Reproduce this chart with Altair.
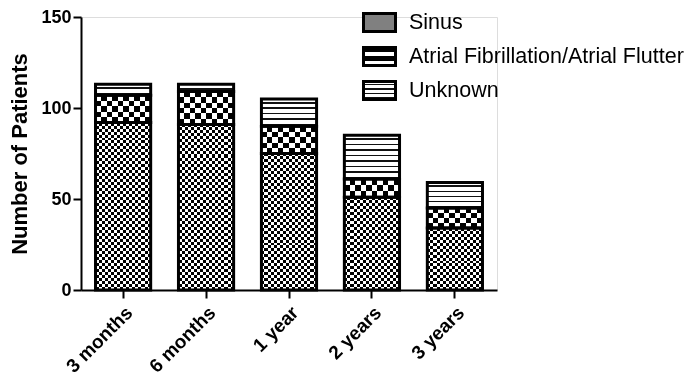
import altair as alt
import pandas as pd

periods = ["3 months", "6 months", "1 year", "2 years", "3 years"]
series = ["Sinus", "Atrial Fibrillation/Atrial Flutter", "Unknown"]
sinus = [92, 91, 75, 51, 34]
af = [15, 18, 15, 10, 11]
unknown = [6, 4, 15, 24, 14]

rows = []
for i, p in enumerate(periods):
    base = 0
    for s, vals in zip(series, [sinus, af, unknown]):
        v = vals[i]
        rows.append({"period": p, "series": s, "value": v, "y0": base, "y1": base + v})
        base += v
df = pd.DataFrame(rows)

PLOT_H = 273
PX_PER_UNIT = PLOT_H / 150


def stripes(n, first="black"):
    other = "white" if first == "black" else "black"
    out = []
    for i in range(n):
        c = first if i % 2 == 0 else other
        out += [(i / n, c), ((i + 1) / n, c)]
    return out


def lines(n):
    out = []
    for i in range(n):
        a, b, c = i / n, (i + 0.55) / n, (i + 0.85) / n
        out += [(a, "white"), (b, "white"), (b, "#111111"), (c, "#111111"), (c, "white"), ((i + 1) / n, "white")]
    return out


def grad_expr(stops, vertical=True):
    s = ",".join("{offset:%.4f,color:'%s'}" % (o, c) for o, c in stops)
    x2, y2 = (0, 1) if vertical else (1, 0)
    return "{gradient:'linear',x1:0,y1:0,x2:%d,y2:%d,stops:[%s]}" % (x2, y2, s)


def by_value_expr(values, cell_px, maker):
    """Nested ternary choosing a gradient whose repeat count follows the segment height."""
    counts = {}
    for v in sorted(set(values)):
        counts[v] = max(1, round(v * PX_PER_UNIT / cell_px))
    vs = sorted(counts)
    expr = grad_expr(maker(counts[vs[-1]]))
    for v in reversed(vs[:-1]):
        expr = "datum.value <= %d ? %s : (%s)" % (v, grad_expr(maker(counts[v])), expr)
    return expr


def vgrad(n):
    return alt.LinearGradient(
        gradient="linear", x1=0, y1=0, x2=1, y2=0,
        stops=[alt.GradientStop(offset=o, color=c) for o, c in stripes(n, first="white")],
    )


x_enc = alt.X(
    "period:N", sort=periods, title=None,
    scale=alt.Scale(paddingInner=0.335, paddingOuter=0.175),
    axis=alt.Axis(labelAngle=-45, labelAlign="right", labelBaseline="top",
                  labelFontSize=19, labelFontWeight="bold", labelPadding=5,
                  tickSize=8, tickWidth=2, domainWidth=2, domainColor="black",
                  tickColor="black", labelColor="black", grid=False),
)
y_enc = alt.Y(
    "y0:Q", title="Number of Patients",
    scale=alt.Scale(domain=[0, 150], nice=False),
    axis=alt.Axis(values=[0, 50, 100, 150], labelFontSize=18, labelFontWeight="bold",
                  titleFontSize=22, titleFontWeight="bold", titlePadding=9,
                  tickSize=8, tickWidth=2, domainWidth=2, domainColor="black",
                  tickColor="black", labelColor="black", titleColor="black",
                  labelPadding=2, grid=False),
)
xs = alt.X("period:N", sort=periods)

base = alt.Chart(df)

fills = base.mark_bar(strokeWidth=0).encode(
    x=x_enc, y=y_enc, y2="y1:Q",
    color=alt.Color(
        "series:N",
        scale=alt.Scale(domain=series, range=["#808080",
                                              {"expr": grad_expr(stripes(4))},
                                              {"expr": grad_expr(lines(4))}]),
        legend=alt.Legend(
            title=None, orient="none", legendX=281, legendY=-12,
            symbolType="M-1,-0.5625H1V0.5625H-1Z", symbolSize=1024,
            symbolStrokeColor="black", symbolStrokeWidth=3, symbolOpacity=1,
            labelFontSize=21.5, labelFont="Liberation Sans", labelColor="black",
            labelOffset=12, rowPadding=1, padding=0, labelLimit=400,
        ),
    ),
)


def seg(name):
    return base.transform_filter(alt.datum.series == name)


sinus_rows = seg(series[0]).mark_bar(
    fill={"expr": by_value_expr(sinus, 3.0, lambda n: stripes(n))}, strokeWidth=0
).encode(x=xs, y="y0:Q", y2="y1:Q")
sinus_cols = seg(series[0]).mark_bar(
    fill=vgrad(18), blend="difference", strokeWidth=0
).encode(x=xs, y="y0:Q", y2="y1:Q")

af_rows = seg(series[1]).mark_bar(
    fill={"expr": by_value_expr(af, 5.5, lambda n: stripes(n))}, strokeWidth=0
).encode(x=xs, y="y0:Q", y2="y1:Q")
af_cols = seg(series[1]).mark_bar(
    fill=vgrad(10), blend="difference", strokeWidth=0
).encode(x=xs, y="y0:Q", y2="y1:Q")

unk_lines = seg(series[2]).mark_bar(
    fill={"expr": by_value_expr(unknown, 5.5, lines)}, strokeWidth=0
).encode(x=xs, y="y0:Q", y2="y1:Q")

outline = base.mark_bar(fill="transparent", stroke="black", strokeWidth=3).encode(
    x=xs, y="y0:Q", y2="y1:Q"
)

chart = alt.layer(fills, sinus_rows, sinus_cols, af_rows, af_cols, unk_lines, outline).properties(
    width=416, height=PLOT_H,
    autosize=alt.AutoSizeParams(type="none"),
    padding={"left": 73, "top": 9, "right": 191, "bottom": 88},
).configure_view(stroke=None).configure(font="Liberation Sans")

chart.save("out.html", embed_options={"renderer": "svg", "actions": False})
